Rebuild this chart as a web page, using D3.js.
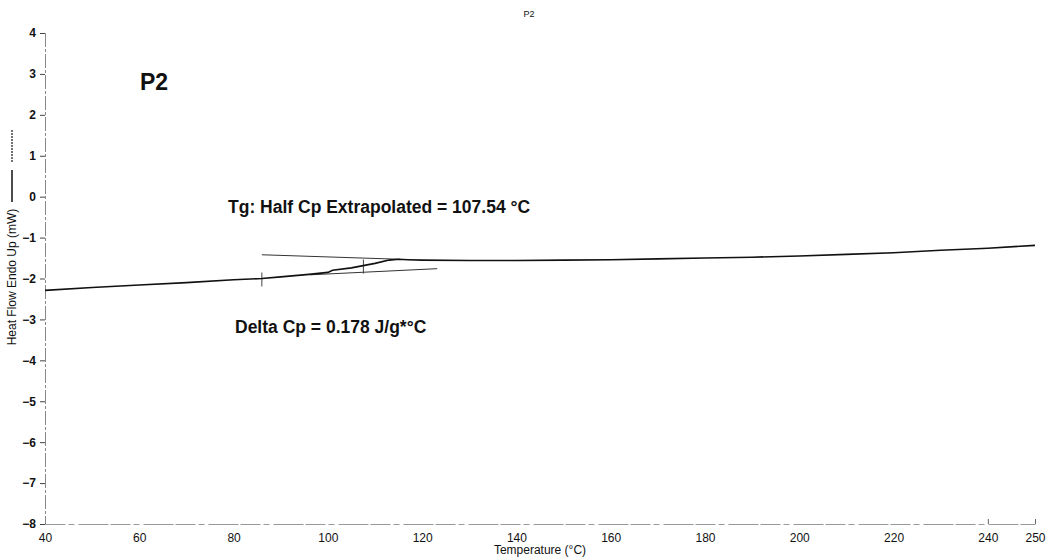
<!DOCTYPE html>
<html>
<head>
<meta charset="utf-8">
<script src="https://cdn.jsdelivr.net/npm/d3@7"></script>
<style>
  body { margin: 0; background: #fff; }
  text { font-family: Arial, "Liberation Sans", sans-serif; fill: #111; }
</style>
</head>
<body>
<div id="chart"></div>
<script>
const width = 1050;
const height = 560;

// DSC trace
const temps = [40, 50, 60, 70, 80, 86, 90, 96, 100, 101, 105, 110, 113, 115, 117, 120, 130, 140, 150, 160, 170, 180, 190, 200, 210, 220, 230, 240, 250];
const heatFlow = [-2.29, -2.22, -2.16, -2.10, -2.03, -2.00, -1.96, -1.90, -1.85, -1.80, -1.74, -1.63, -1.55, -1.53, -1.54, -1.55, -1.56, -1.56, -1.55, -1.54, -1.52, -1.50, -1.48, -1.45, -1.41, -1.37, -1.31, -1.26, -1.19];

// extrapolated baselines and markers
const onsetLine = [[86, -1.42], [115.3, -1.53]];
const endLine = [[96.2, -1.91], [123.2, -1.76]];
const markerTemps = [86, 107.54];

const xTicks = [40, 60, 80, 100, 120, 140, 160, 180, 200, 220, 240, 250];
const yTicks = [4, 3, 2, 1, 0, -1, -2, -3, -4, -5, -6, -7, -8];

const svg = d3.select("#chart")
  .append("svg")
  .attr("width", width)
  .attr("height", height);

const x = d3.scaleLinear().domain([40, 250]).range([45, 1035]);
const y = d3.scaleLinear().domain([-8, 4]).range([524, 33]);

// axes
const yAxis = svg.append("g")
  .attr("transform", "translate(45,0)")
  .call(d3.axisLeft(y).tickValues(yTicks).tickSize(5).tickPadding(4).tickFormat(d3.format("d")));
yAxis.select(".domain").attr("stroke", "#888").attr("stroke-dasharray", "14,2,3,2");
yAxis.selectAll(".tick line").attr("stroke", "#444");
yAxis.selectAll(".tick text")
  .style("font-size", "12px")
  .style("font-weight", "bold")
  .attr("fill", "#111");

const xAxis = svg.append("g")
  .attr("transform", "translate(0,524)")
  .call(d3.axisBottom(x).tickValues(xTicks).tickSize(0).tickPadding(9).tickFormat(d3.format("d")));
xAxis.select(".domain").attr("stroke", "#999").attr("stroke-dasharray", "20,3,6,4,30,2");
xAxis.selectAll(".tick text")
  .style("font-size", "12px")
  .attr("fill", "#111");
xAxis.selectAll(".tick")
  .filter(d => d >= 240)
  .append("line")
  .attr("y1", 0).attr("y2", -5)
  .attr("stroke", "#666");

// titles
svg.append("text")
  .attr("x", 529).attr("y", 17)
  .attr("text-anchor", "middle")
  .style("font-size", "9px")
  .text("P2");

svg.append("text")
  .attr("x", 540).attr("y", 554)
  .attr("text-anchor", "middle")
  .style("font-size", "12px")
  .text("Temperature (°C)");

const yTitle = svg.append("g").attr("transform", "translate(12,277) rotate(-90)");
yTitle.append("text")
  .attr("x", 0).attr("y", 4)
  .attr("text-anchor", "middle")
  .style("font-size", "12px")
  .text("Heat Flow Endo Up (mW)");
yTitle.append("line")
  .attr("x1", 75).attr("x2", 107)
  .attr("y1", 0).attr("y2", 0)
  .attr("stroke", "#111").attr("stroke-width", 1.5);
yTitle.append("line")
  .attr("x1", 115).attr("x2", 147)
  .attr("y1", 0).attr("y2", 0)
  .attr("stroke", "#444").attr("stroke-width", 1.5)
  .attr("stroke-dasharray", "2,1");

// annotations
svg.append("text")
  .attr("x", 140).attr("y", 90)
  .style("font-size", "23px")
  .style("font-weight", "bold")
  .text("P2");

svg.append("text")
  .attr("x", 228).attr("y", 213)
  .style("font-size", "17.5px")
  .style("font-weight", "bold")
  .text("Tg: Half Cp Extrapolated = 107.54 °C");

svg.append("text")
  .attr("x", 235).attr("y", 333)
  .style("font-size", "17.5px")
  .style("font-weight", "bold")
  .text("Delta Cp = 0.178 J/g*°C");

// baselines
const line = d3.line().x(d => x(d[0])).y(d => y(d[1]));
svg.append("path").attr("d", line(onsetLine)).attr("fill", "none").attr("stroke", "#333").attr("stroke-width", 1);
svg.append("path").attr("d", line(endLine)).attr("fill", "none").attr("stroke", "#333").attr("stroke-width", 1);

// markers on the trace
const curveY = d3.scaleLinear().domain(temps).range(heatFlow);
svg.selectAll(".marker")
  .data(markerTemps)
  .enter().append("line")
  .attr("class", "marker")
  .attr("x1", d => x(d)).attr("x2", d => x(d))
  .attr("y1", d => y(curveY(d)) - 6)
  .attr("y2", d => y(curveY(d)) + 8)
  .attr("stroke", "#444");

// trace
svg.append("path")
  .datum(temps.map((t, i) => [t, heatFlow[i]]))
  .attr("d", line)
  .attr("fill", "none")
  .attr("stroke", "#111")
  .attr("stroke-width", 1.6);
</script>
</body>
</html>
